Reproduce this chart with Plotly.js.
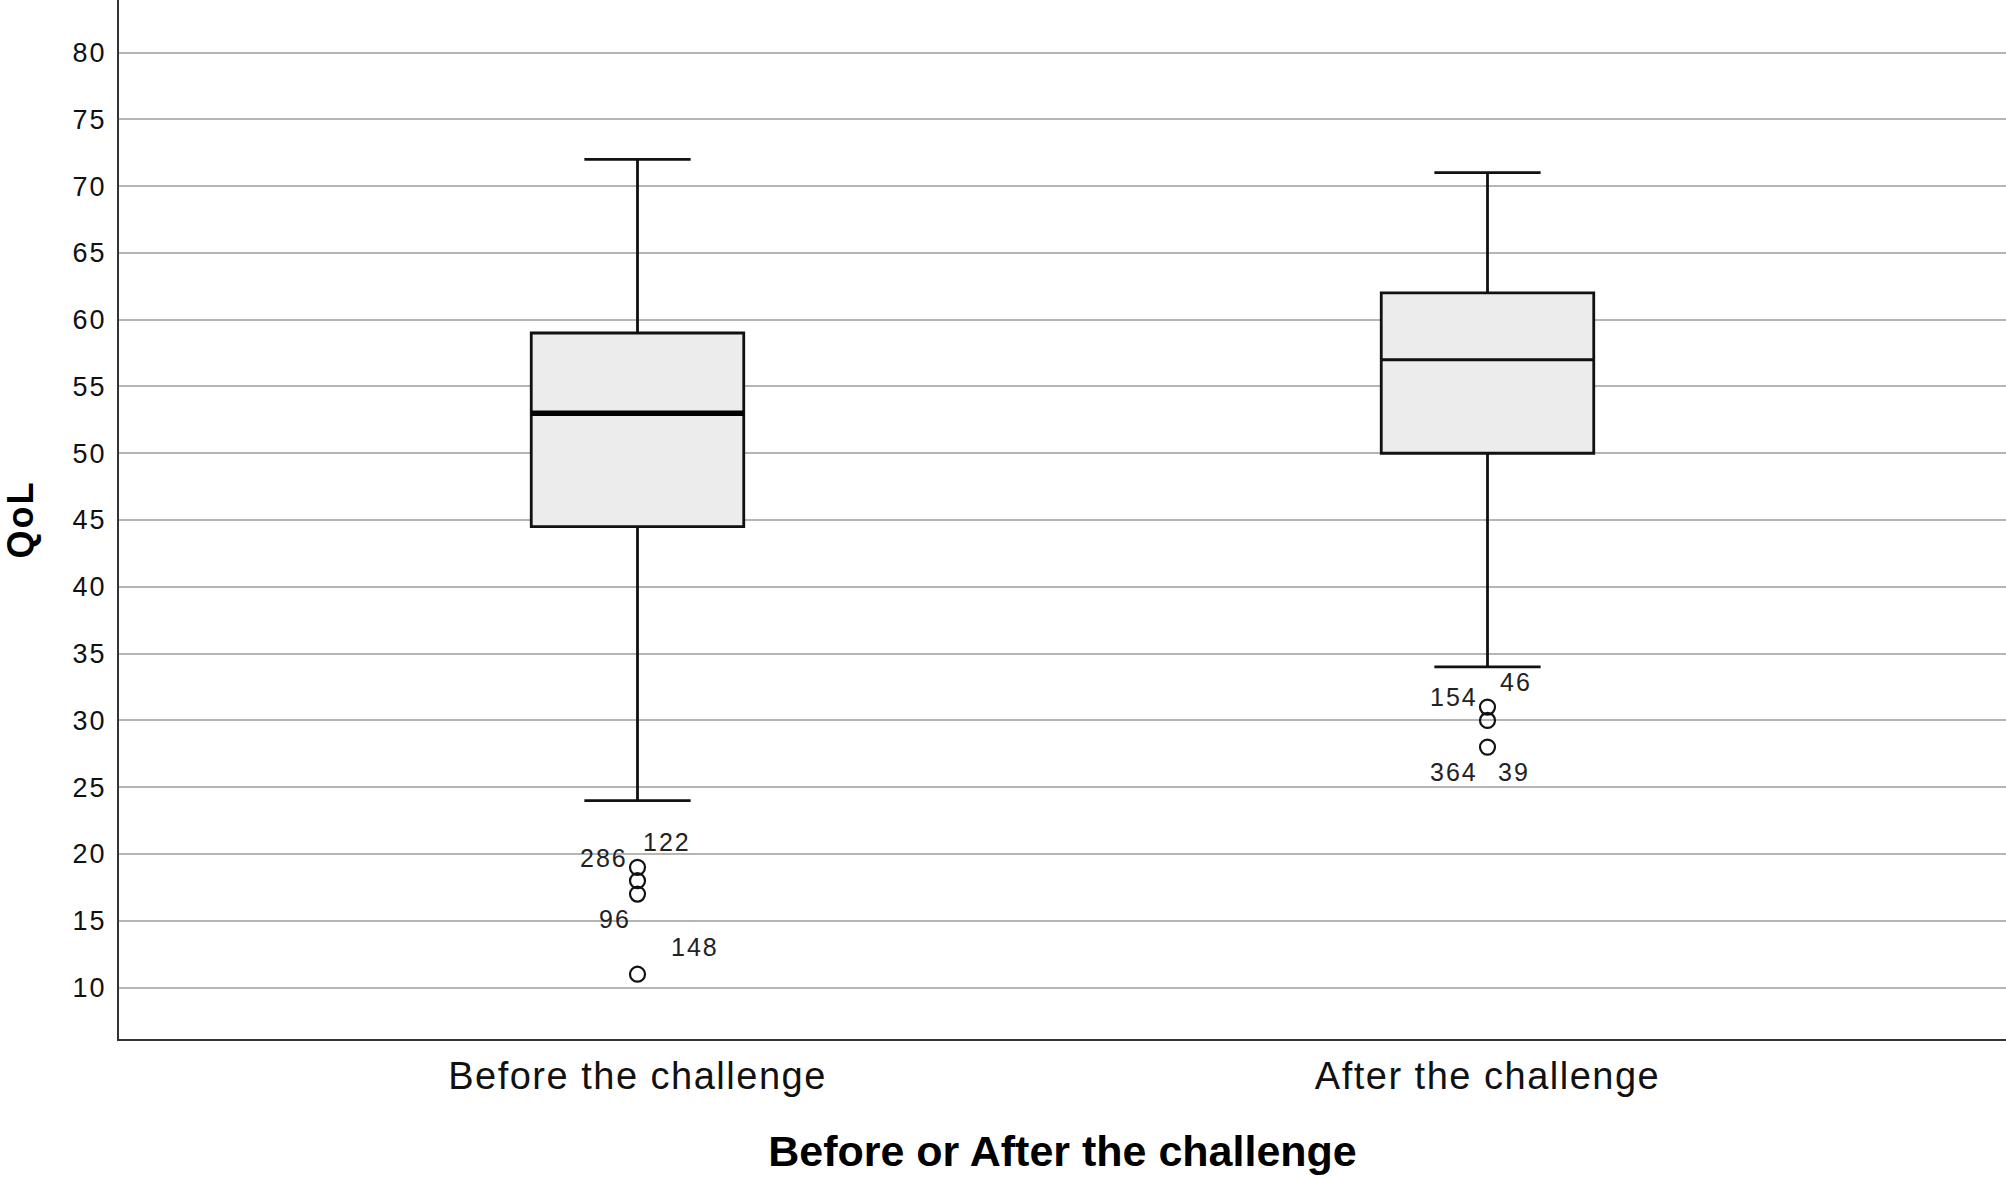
<!DOCTYPE html>
<html>
<head>
<meta charset="utf-8">
<script src="https://cdn.plot.ly/plotly-3.0.1.min.js"></script>
<style>
  html, body { margin: 0; padding: 0; background: #fff; }
  #qolChart { width: 2006px; height: 1180px; }
  .ytick text { letter-spacing: 2px; }
  .xtick text { letter-spacing: 1.5px; }
  .annotation-text { letter-spacing: 2px; }
  .g-ytitle text { letter-spacing: 2px; }
</style>
</head>
<body>
<div id="qolChart"></div>
<script>
// categories on the x axis
const categories = ['Before the challenge', 'After the challenge'];
const categoryIndex = [0, 1];

// box statistics
const lowerWhisker = [24, 34];
const q1 = [44.5, 50];
const median = [53, 57];
const q3 = [59, 62];
const upperWhisker = [72, 71];

// outliers, with their case labels
const beforeOutliers = [19, 18, 17, 11];
const afterOutliers = [31, 30, 28];

const outlierLabels = [
  // [category index, value, label, side, dx, dy]
  [0, 19, '122', 'left', 3, 25],
  [0, 19, '286', 'right', -8, 9],
  [0, 17, '96', 'right', -5, -25],
  [0, 11, '148', 'left', 31, 27],
  [1, 31, '46', 'left', 10, 25],
  [1, 31, '154', 'right', -8, 10],
  [1, 28, '364', 'right', -8, -25],
  [1, 28, '39', 'left', 8, -25]
];

const boxWidth = 0.25;
const fontFamily = '"Liberation Sans", Arial, Helvetica, sans-serif';

const boxTrace = {
  type: 'box',
  x: categoryIndex,
  q1: q1,
  median: median,
  q3: q3,
  lowerfence: lowerWhisker,
  upperfence: upperWhisker,
  width: boxWidth,
  whiskerwidth: 0.5,
  boxpoints: false,
  fillcolor: '#ececec',
  line: { color: '#111', width: 2.8 },
  hoverinfo: 'skip',
  showlegend: false
};

// the "before" median is drawn bold in the original
const boldMedian = {
  type: 'scatter',
  mode: 'lines',
  x: [categoryIndex[0] - boxWidth / 2, categoryIndex[0] + boxWidth / 2],
  y: [median[0], median[0]],
  line: { color: '#000', width: 5.5 },
  hoverinfo: 'skip',
  showlegend: false
};

const outlierTrace = {
  type: 'scatter',
  mode: 'markers',
  x: beforeOutliers.map(() => categoryIndex[0]).concat(afterOutliers.map(() => categoryIndex[1])),
  y: beforeOutliers.concat(afterOutliers),
  marker: {
    symbol: 'circle-open',
    size: 15,
    color: '#111',
    line: { color: '#111', width: 2.2 }
  },
  hoverinfo: 'skip',
  showlegend: false
};

const annotations = outlierLabels.map(([xi, v, label, side, dx, dy]) => ({
  x: categoryIndex[xi],
  y: v,
  xref: 'x',
  yref: 'y',
  text: label,
  showarrow: false,
  xanchor: side,
  yanchor: 'middle',
  xshift: dx,
  yshift: dy,
  font: { family: fontFamily, size: 25, color: '#222' }
}));

const layout = {
  width: 2006,
  height: 1180,
  margin: { l: 119, r: 0, t: 0, b: 141 },
  paper_bgcolor: '#fff',
  plot_bgcolor: '#fff',
  showlegend: false,
  font: { family: fontFamily, color: '#111' },
  xaxis: {
    range: [-0.61, 1.61],
    tickvals: categoryIndex,
    ticktext: categories,
    showgrid: false,
    zeroline: false,
    showline: true,
    linecolor: '#333',
    linewidth: 2,
    ticks: '',
    ticklabelstandoff: 2,
    tickfont: { family: fontFamily, size: 38, color: '#111' },
    title: {
      text: '<b>Before or After the challenge</b>',
      font: { family: fontFamily, size: 43, color: '#000' },
      standoff: 40
    }
  },
  yaxis: {
    range: [6.15, 83.93],
    tickvals: [10, 15, 20, 25, 30, 35, 40, 45, 50, 55, 60, 65, 70, 75, 80],
    showgrid: true,
    gridcolor: '#b5b5b5',
    gridwidth: 2,
    zeroline: false,
    showline: true,
    linecolor: '#333',
    linewidth: 2,
    ticks: '',
    ticklabelstandoff: 5,
    tickfont: { family: fontFamily, size: 27, color: '#111' },
    title: {
      text: '<b>QoL</b>',
      font: { family: fontFamily, size: 36, color: '#000' },
      standoff: 44
    }
  },
  annotations: annotations
};

Plotly.newPlot('qolChart', [boxTrace, boldMedian, outlierTrace], layout, { displayModeBar: false, staticPlot: true });
</script>
</body>
</html>
